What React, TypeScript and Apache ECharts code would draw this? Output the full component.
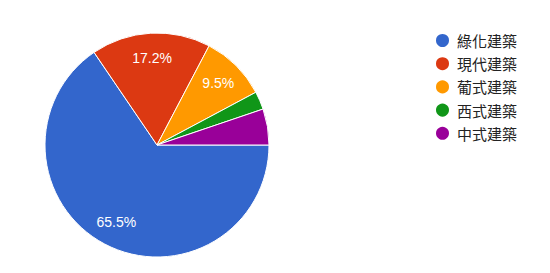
import React, { useEffect, useRef } from "react";
import * as echarts from "echarts";

const categories = ["綠化建築", "現代建築", "葡式建築", "西式建築", "中式建築"];
const values = [65.5, 17.2, 9.5, 2.6, 5.2];
const colors = ["#3366cc", "#dc3912", "#ff9900", "#109618", "#990099"];
const shownLabels = [true, true, true, false, false];

export default function App() {
  const ref = useRef<HTMLDivElement>(null);
  useEffect(() => {
    const chart = echarts.init(ref.current!, null, { renderer: "svg" });
    const total = values.reduce((a, b) => a + b, 0);
    chart.setOption({
      animation: false,
      color: colors,
      legend: {
        orient: "vertical",
        left: 434,
        top: 32,
        padding: 0,
        icon: "circle",
        itemWidth: 15,
        itemHeight: 15,
        itemGap: 6.2,
        data: categories,
        textStyle: {
          fontFamily: "'Noto Sans CJK TC', 'Liberation Sans', Arial, sans-serif",
          fontSize: 15,
          lineHeight: 15,
          color: "#222222",
          padding: [0, 0, 0, 2],
        },
      },
      series: [
        {
          type: "pie",
          center: [157, 145],
          radius: 112,
          startAngle: 0,
          clockwise: true,
          silent: true,
          label: { show: false },
          labelLine: { show: false },
          itemStyle: { borderColor: "#ffffff", borderWidth: 1 },
          data: categories.map((name, i) => ({ name, value: values[i] })),
        },
        {
          type: "pie",
          center: [157, 145],
          radius: [56, 112],
          startAngle: 0,
          clockwise: true,
          silent: true,
          legendHoverLink: false,
          itemStyle: { color: "rgba(0,0,0,0)" },
          labelLine: { show: false },
          label: {
            position: "inside",
            color: "#ffffff",
            fontSize: 14,
            fontFamily: "'Liberation Sans', Arial, sans-serif",
            formatter: (p: any) => ((p.value / total) * 100).toFixed(1) + "%",
          },
          data: categories.map((name, i) => ({
            name,
            value: values[i],
            label: { show: shownLabels[i] },
          })),
        },
      ],
    });
    return () => chart.dispose();
  }, []);
  return (
    <div
      ref={ref}
      style={{ position: "fixed", left: 0, top: 0, width: 550, height: 273, background: "#ffffff" }}
    />
  );
}
